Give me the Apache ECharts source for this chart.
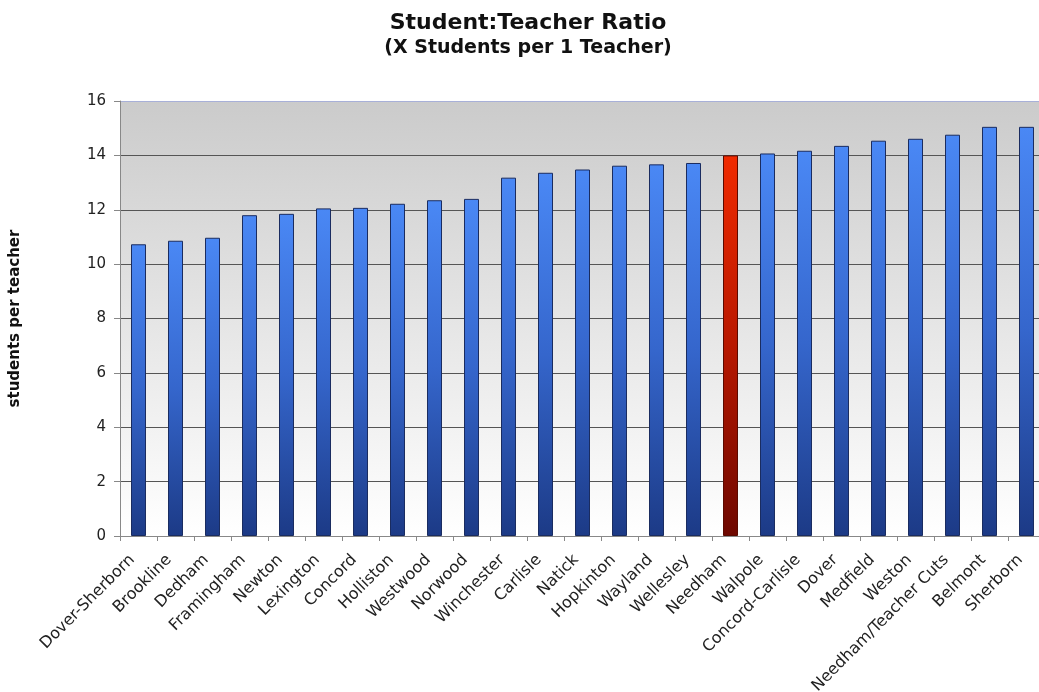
<!DOCTYPE html>
<html>
<head>
<meta charset="utf-8">
<script src="https://cdn.jsdelivr.net/npm/echarts@6/dist/echarts.min.js"></script>
<style>
html,body{margin:0;padding:0;background:#fff;overflow:hidden;}
#chart{width:1039px;height:692px;}
</style>
</head>
<body>
<div id="chart"></div>
<script>
const categories = ["Dover-Sherborn","Brookline","Dedham","Framingham","Newton","Lexington","Concord","Holliston","Westwood","Norwood","Winchester","Carlisle","Natick","Hopkinton","Wayland","Wellesley","Needham","Walpole","Concord-Carlisle","Dover","Medfield","Weston","Needham/Teacher Cuts","Belmont","Sherborn"];
const ratios = [10.73,10.86,10.97,11.8,11.85,12.05,12.07,12.22,12.35,12.4,13.18,13.36,13.48,13.62,13.67,13.72,14.0,14.07,14.17,14.35,14.54,14.61,14.76,15.05,15.05];
const highlight = "Needham";
const yTicks = [0,2,4,6,8,10,12,14,16];

const blueGrad = new echarts.graphic.LinearGradient(0,0,0,1,[
  {offset:0,color:'#4a88f5'},{offset:0.5,color:'#3566cc'},{offset:1,color:'#1c3a86'}]);
const redGrad = new echarts.graphic.LinearGradient(0,0,0,1,[
  {offset:0,color:'#f02a00'},{offset:0.5,color:'#b81800'},{offset:1,color:'#6e0800'}]);

const data = categories.map((c,i)=>({
  value: ratios[i],
  itemStyle: c===highlight ? {color: redGrad, borderColor:'#5a0a00'} : {color: blueGrad, borderColor:'#1a2c60'}
}));

const chart = echarts.init(document.getElementById('chart'));
chart.setOption({
  animation:false,
  backgroundColor:'#ffffff',
  title:[
    {text:'Student:Teacher Ratio', left:523, top:7, textAlign:'center',
     textStyle:{fontFamily:'DejaVu Sans', fontWeight:'bold', fontSize:22, color:'#111'}},
    {text:'(X Students per 1 Teacher)', left:523, top:34, textAlign:'center',
     textStyle:{fontFamily:'DejaVu Sans', fontWeight:'bold', fontSize:19, color:'#111'}}
  ],
  grid:{left:120, width:925, top:101, bottom:156, show:true, borderWidth:0,
    outerBoundsMode:'none', containLabel:false,
    backgroundColor:new echarts.graphic.LinearGradient(0,0,0,1,[
      {offset:0,color:'#cbcbcb'},{offset:1,color:'#ffffff'}])},
  xAxis:{
    type:'category', data:categories,
    axisLine:{lineStyle:{color:'#888',width:1}},
    axisTick:{show:true, alignWithLabel:false, length:5, lineStyle:{color:'#888'}},
    axisLabel:{rotate:45, fontFamily:'DejaVu Sans', fontSize:16, color:'#222', interval:0, margin:15,
      padding:[0,9,0,0]}
  },
  yAxis:{
    type:'value', min:0, max:16, interval:2,
    name:'students per teacher', nameLocation:'middle', nameGap:97,
    nameTextStyle:{fontFamily:'DejaVu Sans', fontWeight:'bold', fontSize:15, color:'#111'},
    axisLine:{show:true, lineStyle:{color:'#888'}},
    axisTick:{show:true, length:6, lineStyle:{color:'#888'}},
    axisLabel:{fontFamily:'DejaVu Sans', fontSize:15, color:'#222', margin:14,
      formatter:v=> yTicks.includes(v) ? String(v) : ''},
    splitLine:{show:true, lineStyle:{color:['#888','#555','#555','#555','#555','#555','#555','#555','#a8b0d8'], width:1}}
  },
  series:[{
    type:'bar', data:data, barWidth:15,
    itemStyle:{borderWidth:1}
  }]
});
</script>
</body>
</html>
